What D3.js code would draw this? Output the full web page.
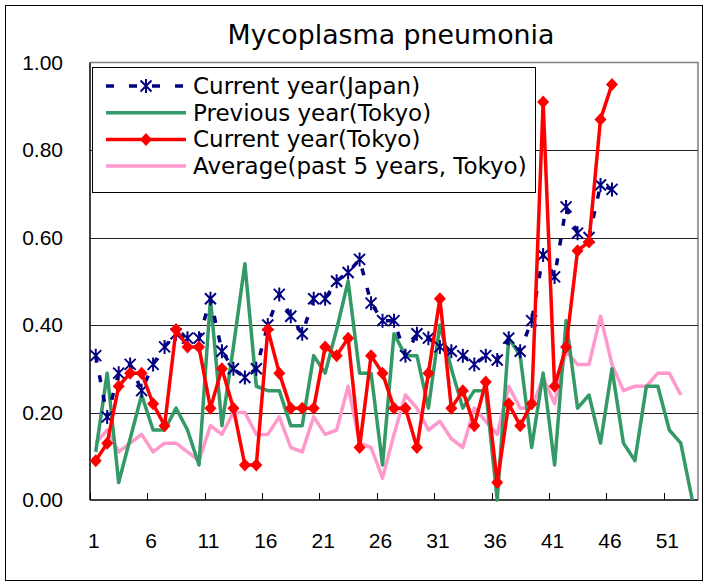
<!DOCTYPE html>
<html>
<head>
<meta charset="utf-8">
<script src="https://cdn.jsdelivr.net/npm/d3@7"></script>
<style>
  body { margin: 0; background: #fff; }
  svg { display: block; }
</style>
</head>
<body>
<svg id="chart"></svg>
<script>
// weeks 1..53 on the category axis
let weeks = d3.range(1, 54)
let tickWeeks = [1, 6, 11, 16, 21, 26, 31, 36, 41, 46, 51]
let yTicks = [0, 0.2, 0.4, 0.6, 0.8, 1.0]

let japanCurrent = [0.33, 0.19, 0.29, 0.31, 0.25, 0.31, 0.35, 0.38, 0.37, 0.37,
                    0.46, 0.34, 0.30, 0.28, 0.30, 0.40, 0.47, 0.42, 0.38, 0.46,
                    0.46, 0.50, 0.52, 0.55, 0.45, 0.41, 0.41, 0.33, 0.38, 0.37,
                    0.35, 0.34, 0.33, 0.31, 0.33, 0.32, 0.37, 0.34, 0.41, 0.56,
                    0.51, 0.67, 0.61, 0.60, 0.72, 0.71]

let tokyoPrevious = [0.11, 0.29, 0.04, 0.14, 0.24, 0.16, 0.16, 0.21, 0.16, 0.08,
                     0.46, 0.17, 0.35, 0.54, 0.26, 0.25, 0.25, 0.17, 0.17, 0.33,
                     0.29, 0.39, 0.50, 0.29, 0.29, 0.08, 0.38, 0.33, 0.33, 0.21,
                     0.40, 0.30, 0.21, 0.25, 0.25, 0.00, 0.37, 0.33, 0.12, 0.29,
                     0.08, 0.41, 0.21, 0.24, 0.13, 0.30, 0.13, 0.09, 0.26, 0.26,
                     0.16, 0.13, 0.00]

let tokyoCurrent = [0.09, 0.13, 0.26, 0.29, 0.29, 0.22, 0.17, 0.39, 0.35, 0.35,
                    0.21, 0.30, 0.21, 0.08, 0.08, 0.39, 0.29, 0.21, 0.21, 0.21,
                    0.35, 0.33, 0.37, 0.12, 0.33, 0.29, 0.21, 0.21, 0.12, 0.29,
                    0.46, 0.21, 0.25, 0.17, 0.27, 0.04, 0.22, 0.17, 0.22, 0.91,
                    0.26, 0.35, 0.57, 0.59, 0.87, 0.95]

let tokyoAverage = [0.13, 0.16, 0.11, 0.13, 0.15, 0.11, 0.13, 0.13, 0.11, 0.09,
                    0.17, 0.15, 0.20, 0.20, 0.15, 0.15, 0.19, 0.12, 0.11, 0.19,
                    0.15, 0.16, 0.26, 0.13, 0.12, 0.05, 0.15, 0.24, 0.21, 0.16,
                    0.18, 0.14, 0.12, 0.21, 0.18, 0.15, 0.26, 0.21, 0.21, 0.28,
                    0.22, 0.34, 0.31, 0.31, 0.42, 0.31, 0.25, 0.26, 0.26, 0.29,
                    0.29, 0.24]

let svg = d3.select('#chart')
            .attr('width', 707)
            .attr('height', 584)

let plotLeft = 90, plotRight = 698, plotTop = 62.5, plotBottom = 500

let x = d3.scaleBand().domain(weeks).range([plotLeft, plotRight])
let cx = (w) => x(w) + x.bandwidth() / 2
let y = d3.scaleLinear().domain([0, 1]).range([plotBottom, plotTop])

// outer frame
svg.append('rect')
   .attr('x', 5.5).attr('y', 5.5)
   .attr('width', 697).attr('height', 575)
   .attr('fill', '#fff')
   .attr('stroke', '#000')

// title
svg.append('text')
   .attr('x', 391).attr('y', 44)
   .attr('text-anchor', 'middle')
   .attr('font-family', 'DejaVu Sans')
   .attr('font-size', '26.8px')
   .text('Mycoplasma pneumonia')

// plot area border (top + right are grey)
svg.append('path')
   .attr('d', 'M' + plotLeft + ',' + plotTop + 'H' + plotRight + 'V' + plotBottom)
   .attr('fill', 'none')
   .attr('stroke', '#808080')
   .attr('stroke-width', 1.5)

// gridlines
svg.selectAll('.grid')
   .data([0.2, 0.4, 0.6, 0.8])
   .enter()
   .append('line')
   .attr('x1', plotLeft).attr('x2', plotRight)
   .attr('y1', (d) => Math.round(y(d)) + 0.5)
   .attr('y2', (d) => Math.round(y(d)) + 0.5)
   .attr('stroke', '#222')

// y axis labels
let yAxis = svg.append('g')
   .attr('transform', 'translate(' + plotLeft + ',0)')
   .call(d3.axisLeft(y).tickValues(yTicks).tickFormat(d3.format('.2f')).tickSize(0).tickPadding(27))
yAxis.select('.domain').remove()
yAxis.selectAll('text')
   .attr('font-family', 'Liberation Sans')
   .attr('font-size', '21px')
   .attr('fill', '#000')

// x axis labels
let xAxis = svg.append('g')
   .attr('transform', 'translate(-2,' + plotBottom + ')')
   .call(d3.axisBottom(x).tickValues(tickWeeks).tickSize(0).tickPadding(33))
xAxis.select('.domain').remove()
xAxis.selectAll('text')
   .attr('font-family', 'Liberation Sans')
   .attr('font-size', '21px')
   .attr('fill', '#000')

// tick marks at category boundaries, pointing up
svg.selectAll('.xtick')
   .data(tickWeeks)
   .enter()
   .append('line')
   .attr('x1', (w) => Math.round(x(w)) + 0.5)
   .attr('x2', (w) => Math.round(x(w)) + 0.5)
   .attr('y1', plotBottom).attr('y2', plotBottom - 7)
   .attr('stroke', '#000')

// axis lines
svg.append('line')
   .attr('x1', plotLeft).attr('x2', plotLeft).attr('y1', plotTop).attr('y2', plotBottom)
   .attr('stroke', '#000').attr('stroke-width', 1.5)
svg.append('line')
   .attr('x1', plotLeft).attr('x2', plotRight).attr('y1', plotBottom).attr('y2', plotBottom)
   .attr('stroke', '#000').attr('stroke-width', 1.5)

let line = d3.line()
   .defined((d) => d != null)
   .x((d, i) => cx(weeks[i]))
   .y((d) => y(d))

let diamond = 'M0,-6.5L6,0L0,6.5L-6,0Z'
let star = 'M-5.5,-5.5L5.5,5.5M-5.5,5.5L5.5,-5.5M0,-7L0,7'

// average (pink)
svg.append('path')
   .attr('d', line(tokyoAverage))
   .attr('fill', 'none')
   .attr('stroke', '#ff99cc')
   .attr('stroke-width', 3.5)
   .attr('stroke-linejoin', 'round')

// previous year (green)
svg.append('path')
   .attr('d', line(tokyoPrevious))
   .attr('fill', 'none')
   .attr('stroke', '#339966')
   .attr('stroke-width', 3.5)
   .attr('stroke-linejoin', 'round')

// current year Japan (navy dashed + stars)
svg.append('path')
   .attr('d', line(japanCurrent))
   .attr('fill', 'none')
   .attr('stroke', '#000080')
   .attr('stroke-width', 3.5)
   .attr('stroke-dasharray', '7,13')
svg.selectAll('.star')
   .data(japanCurrent)
   .enter()
   .append('path')
   .attr('d', star)
   .attr('transform', (d, i) => 'translate(' + cx(weeks[i]) + ',' + y(d) + ')')
   .attr('fill', 'none')
   .attr('stroke', '#000080')
   .attr('stroke-width', 2)

// current year Tokyo (red + diamonds)
svg.append('path')
   .attr('d', line(tokyoCurrent))
   .attr('fill', 'none')
   .attr('stroke', '#ff0000')
   .attr('stroke-width', 3.5)
   .attr('stroke-linejoin', 'round')
svg.selectAll('.dia')
   .data(tokyoCurrent)
   .enter()
   .append('path')
   .attr('d', diamond)
   .attr('transform', (d, i) => 'translate(' + cx(weeks[i]) + ',' + y(d) + ')')
   .attr('fill', '#ff0000')

// legend
let legendNames = ['Current year(Japan)', 'Previous year(Tokyo)', 'Current year(Tokyo)', 'Average(past 5 years, Tokyo)']
let legendColors = ['#000080', '#339966', '#ff0000', '#ff99cc']

let legend = svg.append('g')
legend.append('rect')
   .attr('x', 92.5).attr('y', 67.5)
   .attr('width', 443).attr('height', 125)
   .attr('fill', '#fff')
   .attr('stroke', '#000')

let rows = legend.selectAll('.row')
   .data(legendNames)
   .enter()
   .append('g')
   .attr('transform', (d, i) => 'translate(0,' + (86 + i * 26.7) + ')')

rows.append('line')
   .attr('x1', 106).attr('x2', 186)
   .attr('stroke', (d, i) => legendColors[i])
   .attr('stroke-width', 3.5)
   .attr('stroke-dasharray', (d, i) => i === 0 ? '8,15' : null)

rows.filter((d, i) => i === 0).append('path')
   .attr('d', star)
   .attr('transform', 'translate(146,0)')
   .attr('fill', 'none')
   .attr('stroke', '#000080')
   .attr('stroke-width', 2)

rows.filter((d, i) => i === 2).append('path')
   .attr('d', diamond)
   .attr('transform', 'translate(146,0)')
   .attr('fill', '#ff0000')

rows.append('text')
   .attr('x', 193)
   .attr('y', 8)
   .attr('font-family', 'DejaVu Sans')
   .attr('font-size', '23px')
   .text((d) => d)
</script>
</body>
</html>
